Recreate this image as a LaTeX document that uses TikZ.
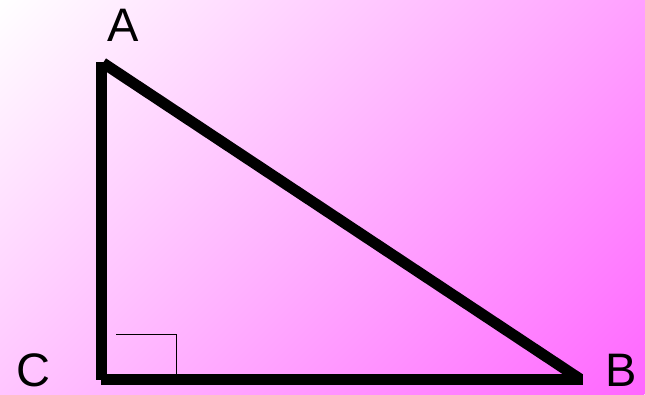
\documentclass[tikz,border=0pt]{standalone}
\usepackage{fontspec}
\setmainfont{Liberation Sans}
\definecolor{bgend}{RGB}{255,102,255}
\tikzset{
  edge/.style={line width=11pt, line cap=butt, black},
  rightmark/.style={line width=1.2pt, black},
  vlabel/.style={anchor=base, inner sep=0pt, font=\fontsize{47}{47}\selectfont}
}
\begin{document}
\begin{tikzpicture}[x=1pt,y=-1pt]
\useasboundingbox (0,0) rectangle (645,394);
\begin{scope}
  \clip (0,0) rectangle (645,394);
  \begin{scope}[transform canvas={rotate around={-45:(322.5,197)}}]
    \shade[left color=white, right color=bgend] (-44.9,-230) rectangle (689.9,624);
  \end{scope}
\end{scope}
% vertices
\coordinate (Atop) at (101.5,62);
\coordinate (Cv) at (101.5,379.5);
\coordinate (Ch) at (101,379);
\coordinate (Bh) at (583,379);
\coordinate (Ahyp) at (103,63);
\coordinate (Bhyp) at (580,379);
\coordinate (m1) at (116,334.5);
\coordinate (m2) at (176.5,334.5);
\coordinate (m3) at (176.5,374);
% sides
\draw[edge] (Atop) -- (Cv);
\draw[edge] (Ch) -- (Bh);
\draw[edge] (Ahyp) -- (Bhyp);
% right angle mark
\draw[rightmark] (m1) -- (m2) -- (m3);
% labels
\node[vlabel] (A) at (123,41) {A};
\node[vlabel] (C) at (33,386) {C};
\node[vlabel] (B) at (621,386) {B};
\end{tikzpicture}
\end{document}
